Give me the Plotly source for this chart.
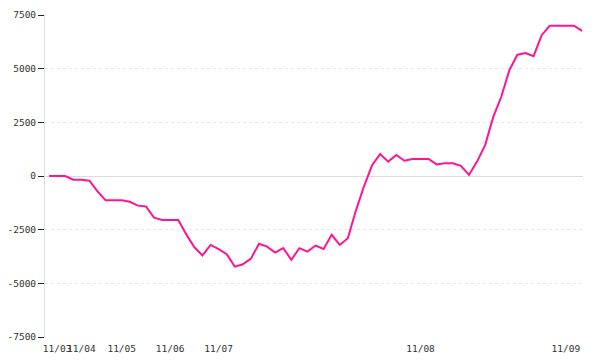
import plotly.graph_objects as go

# Cumulative series, one value per time step
values = [
    0, 0, 0, -170, -170, -220, -720, -1130, -1130, -1130,
    -1200, -1380, -1420, -1940, -2050, -2050, -2050, -2720, -3320, -3700,
    -3210, -3410, -3640, -4220, -4110, -3850, -3160, -3290, -3570, -3360,
    -3900, -3360, -3520, -3240, -3400, -2740, -3210, -2900, -1610, -480,
    500, 1020, 670, 980, 710, 790, 790, 790, 540, 590,
    590, 470, 50, 670, 1440, 2740, 3690, 4930, 5650, 5730,
    5580, 6560, 7000, 7000, 7000, 7000, 6760,
]
steps = list(range(len(values)))

tick_positions = [1, 4, 9, 15, 21, 46, 64]
tick_labels = ["11/03", "11/04", "11/05", "11/06", "11/07", "11/08", "11/09"]
y_ticks = [-7500, -5000, -2500, 0, 2500, 5000, 7500]

fig = go.Figure(
    go.Scatter(
        x=steps,
        y=values,
        mode="lines",
        line=dict(color="#ff1493", width=2),
        hoverinfo="skip",
    )
)

fig.update_layout(
    width=600,
    height=360,
    margin=dict(l=45, r=17, t=15, b=23),
    paper_bgcolor="white",
    plot_bgcolor="white",
    showlegend=False,
    font=dict(family="DejaVu Sans Mono", size=9.5, color="#333"),
)

fig.update_xaxes(
    range=[-0.5, 66.12],
    tickmode="array",
    tickvals=tick_positions,
    ticktext=tick_labels,
    tickangle=0,
    automargin=False,
    showgrid=False,
    zeroline=False,
    showline=False,
    ticks="",
    ticklabelstandoff=4,
)

fig.update_yaxes(
    range=[-7500, 7500],
    tickmode="array",
    tickvals=y_ticks,
    ticktext=[str(v) for v in y_ticks],
    automargin=False,
    showgrid=True,
    gridcolor="#e6e6e6",
    griddash="dot",
    gridwidth=1,
    zeroline=True,
    zerolinecolor="#dddddd",
    zerolinewidth=1,
    showline=True,
    linecolor="#dddddd",
    linewidth=1,
    ticks="outside",
    ticklen=6,
    tickcolor="#222",
    tickwidth=1,
)

fig.write_html("out.html")
